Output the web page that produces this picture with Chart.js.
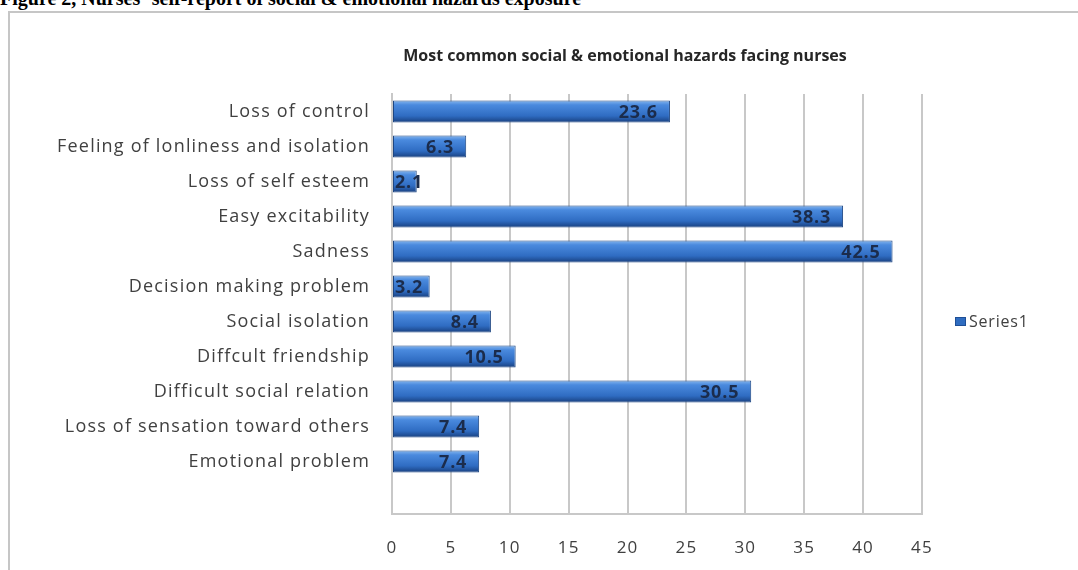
<!DOCTYPE html>
<html>
<head>
<meta charset="utf-8">
<script src="https://cdn.jsdelivr.net/npm/chart.js@4/dist/chart.umd.min.js"></script>
<style>
  html, body { margin: 0; padding: 0; background: #fff; }
  body { width: 1078px; height: 570px; position: relative; overflow: hidden; }
  .caption {
    position: absolute; left: 0; top: -13px;
    font: bold 20px "Liberation Serif", "Times New Roman", serif;
    color: #000; white-space: nowrap;
  }
  .frame {
    position: absolute; left: 8px; top: 11px; width: 1100px; height: 600px;
    border-left: 2px solid #c6c6c6; border-top: 2px solid #c6c6c6;
  }
  #wrap { position: absolute; left: 0; top: 0; width: 1078px; height: 570px; }
</style>
</head>
<body>
<div class="caption">Figure 2, Nurses` self-report of social &amp; emotional hazards exposure</div>
<div class="frame"></div>
<div id="wrap"><canvas id="chart"></canvas></div>
<script>
/* Horizontal bar: most common social & emotional hazards facing nurses */
const categories = [
  'Loss of control',
  'Feeling of lonliness and isolation',
  'Loss of self esteem',
  'Easy excitability',
  'Sadness',
  'Decision making problem',
  'Social isolation',
  'Diffcult friendship',
  'Difficult social relation',
  'Loss of sensation toward others',
  'Emotional problem',
];
const series1 = [23.6, 6.3, 2.1, 38.3, 42.5, 3.2, 8.4, 10.5, 30.5, 7.4, 7.4];
const xTicks = [0, 5, 10, 15, 20, 25, 30, 35, 40, 45];

const TITLE = 'Most common social & emotional hazards facing nurses';
const FONT = '"Open Sans", Lato, sans-serif';
const GRID = '#c8c8c8';

// Excel leaves one empty slot under the last bar
const labels = categories.concat(['']);
const values = series1.concat([null]);

function barFill(ctx) {
  const chart = ctx.chart;
  if (!chart.chartArea) return '#3b7bd0';
  const y = chart.scales.y.getPixelForValue(ctx.dataIndex);
  const g = chart.ctx.createLinearGradient(0, y - 11, 0, y + 11);
  g.addColorStop(0, '#86b6ee');
  g.addColorStop(0.2, '#4a8ade');
  g.addColorStop(0.7, '#2f6cc2');
  g.addColorStop(1, '#183f7e');
  return g;
}

const extras = {
  id: 'extras',
  beforeDraw(chart) {
    chart.ctx.letterSpacing = '1.2px';
  },
  afterDraw(chart) {
    const c = chart.ctx;
    c.save();
    // title
    c.letterSpacing = '0px';
    c.font = 'bold 16px ' + FONT;
    c.fillStyle = '#262626';
    c.textAlign = 'center';
    c.textBaseline = 'middle';
    c.fillText(TITLE, 625, 56);
    // legend
    c.fillStyle = '#2f6cc0';
    c.fillRect(955, 317, 11, 9);
    c.strokeStyle = '#1f4f96';
    c.strokeRect(955.5, 317.5, 10, 8);
    c.letterSpacing = '0.8px';
    c.font = '16px ' + FONT;
    c.fillStyle = '#404040';
    c.textAlign = 'left';
    c.fillText('Series1', 969, 322);
    c.restore();
  },
  afterDatasetsDraw(chart) {
    const c = chart.ctx;
    const meta = chart.getDatasetMeta(0);
    c.save();
    c.letterSpacing = '0.8px';
    c.font = 'bold 18px ' + FONT;
    c.fillStyle = '#1b2c4c';
    c.textAlign = 'right';
    c.textBaseline = 'middle';
    meta.data.forEach((bar, i) => {
      const v = values[i];
      if (v == null) return;
      const txt = String(v);
      const w = c.measureText(txt).width;
      const x = Math.max(bar.x - 12, bar.base + w + 2);
      c.fillText(txt, x, bar.y + 1);
    });
    c.restore();
  },
};

new Chart(document.getElementById('chart'), {
  type: 'bar',
  data: {
    labels,
    datasets: [{
      label: 'Series1',
      data: values,
      backgroundColor: barFill,
      borderColor: '#1d4682',
      borderWidth: 1,
      borderSkipped: false,
      categoryPercentage: 1,
      barPercentage: 0.63,
    }],
  },
  options: {
    indexAxis: 'y',
    responsive: true,
    maintainAspectRatio: false,
    animation: false,
    layout: { padding: { top: 94, right: 156, left: 0, bottom: 0 } },
    plugins: { legend: { display: false }, tooltip: { enabled: false } },
    scales: {
      x: {
        min: 0, max: 45,
        afterBuildTicks: (s) => { s.ticks = xTicks.map((v) => ({ value: v })); },
        afterFit: (s) => { s.height = 56; },
        grid: { color: GRID, lineWidth: 2, drawTicks: false },
        border: { color: GRID, width: 2 },
        ticks: { color: '#404040', font: { family: FONT, size: 17 }, padding: 24 },
      },
      y: {
        afterFit: (s) => { s.width = 392; },
        grid: { display: false, drawTicks: false },
        border: { color: GRID, width: 2 },
        ticks: { color: '#404040', font: { family: FONT, size: 18 }, padding: 22 },
      },
    },
  },
  plugins: [extras],
});
</script>
</body>
</html>
